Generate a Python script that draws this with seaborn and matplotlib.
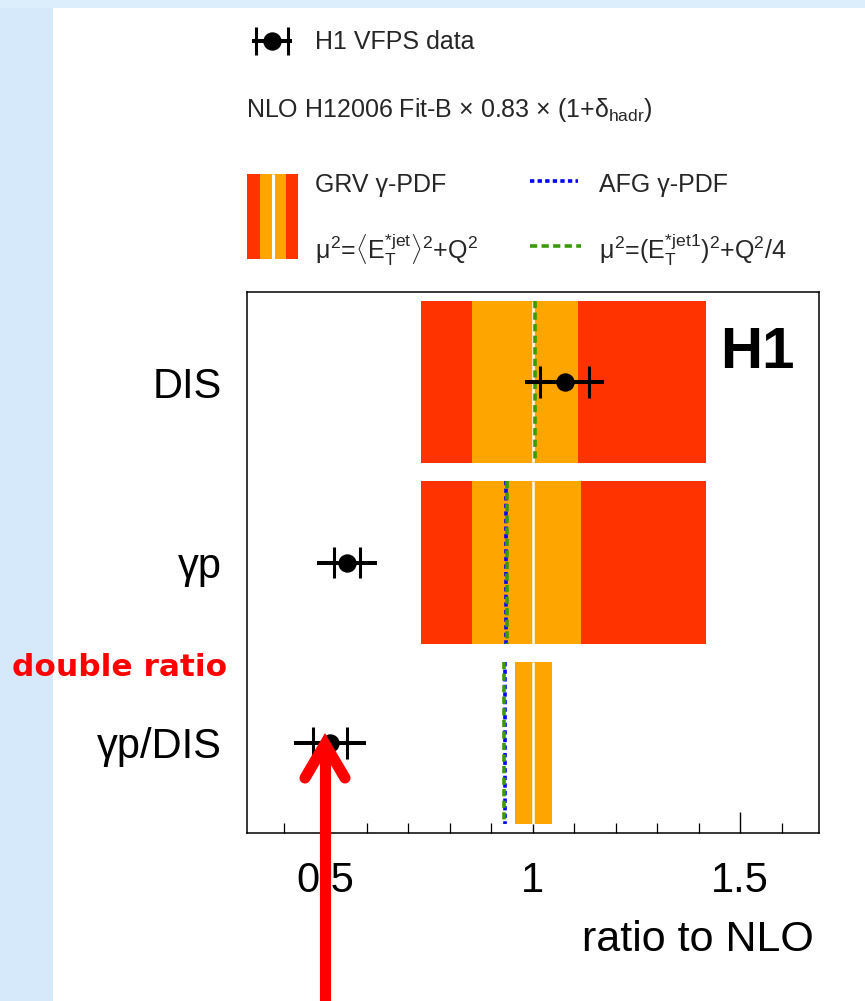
import numpy as np
import pandas as pd
import matplotlib
matplotlib.use("Agg")
import matplotlib.pyplot as plt
import seaborn as sns
from matplotlib.patches import Rectangle
from matplotlib.ticker import MultipleLocator

# ---------------- data ----------------
categories = ["DIS", "γp", "γp/DIS"]
data_ratio = [1.077, 0.553, 0.512]
data_stat = [0.058, 0.031, 0.041]
data_total = [0.095, 0.072, 0.086]
grv_central = [1.0, 1.0, 1.0]
scale_lo = [0.731, 0.731, 0.957]
scale_hi = [1.418, 1.418, 1.046]
pdf_lo = [0.855, 0.855, 0.957]
pdf_hi = [1.110, 1.117, 1.046]
afg_central = [np.nan, 0.935, 0.933]
alt_scale_central = [1.005, 0.938, 0.932]
x_major = [0.5, 1.0, 1.5]
x_major_labels = ["0.5", "1", "1.5"]

# ---------------- style ----------------
sns.set_theme(style="white")
plt.rcParams['font.family'] = ['Liberation Sans', 'DejaVu Sans']
plt.rcParams['mathtext.fontset'] = 'custom'
plt.rcParams['mathtext.rm'] = 'Liberation Sans'
plt.rcParams['mathtext.it'] = 'Liberation Sans'
plt.rcParams['mathtext.bf'] = 'Liberation Sans:bold'

RED = '#ff3300'
ORANGE = '#ffa500'
BLUE = '#0000ff'
GREEN = '#3a9a0a'

W, H = 865, 1001
fig = plt.figure(figsize=(W / 100, H / 100), dpi=100, facecolor='#d5e9fa')
fig.add_artist(Rectangle((0, 1 - 8 / H), 1, 8 / H, transform=fig.transFigure,
                         facecolor='#dcedfb', edgecolor='none', zorder=-2))
fig.add_artist(Rectangle((53 / W, 0), 1 - 53 / W, 1 - 8 / H, transform=fig.transFigure,
                         facecolor='white', edgecolor='none', zorder=-1))

ax = fig.add_axes([247 / W, 1 - 833 / H, (819 - 247) / W, (833 - 292) / H])
ax.set_facecolor('white')

ypos = np.arange(len(categories))
h = 0.9

ax.barh(ypos, np.subtract(scale_hi, scale_lo), left=scale_lo, height=h,
        color=RED, linewidth=0, zorder=1)
ax.barh(ypos, np.subtract(pdf_hi, pdf_lo), left=pdf_lo, height=h,
        color=ORANGE, linewidth=0, zorder=2)
ax.vlines(grv_central, ypos - h / 2, ypos + h / 2, color='white', lw=1.8, zorder=3)

afg = np.array(afg_central)
ok = ~np.isnan(afg)
ax.vlines(afg[ok], ypos[ok] - h / 2, ypos[ok] + h / 2, color=BLUE, lw=2.6,
          linestyles=[(0, (1.2, 0.9))], zorder=4)
ax.vlines(alt_scale_central, ypos - h / 2, ypos + h / 2, color=GREEN, lw=2.6,
          linestyles=[(0, (2.0, 1.2))], zorder=4)

r = np.array(data_ratio)
st = np.array(data_stat)
tot = np.array(data_total)
ax.hlines(ypos, r - tot, r + tot, color='black', lw=2.9, zorder=6)
ax.vlines(np.concatenate([r - st, r + st]), np.concatenate([ypos, ypos]) - 0.088,
          np.concatenate([ypos, ypos]) + 0.088, color='black', lw=2.2, zorder=6)
df = pd.DataFrame({'ratio': data_ratio, 'pos': ypos})
sns.scatterplot(data=df, x='ratio', y='pos', s=175, color='black', linewidth=0,
                zorder=7, ax=ax, legend=False)

ax.set_xlim(0.312, 1.690)
ax.set_ylim(2.5, -0.5)
ax.set_xticks(x_major)
ax.set_xticklabels(x_major_labels)
ax.xaxis.set_minor_locator(MultipleLocator(0.1))
ax.tick_params(axis='x', which='both', bottom=True, top=False, direction='in', colors='black')
ax.tick_params(axis='x', which='major', length=15, width=1.0, labelsize=30, pad=20)
ax.tick_params(axis='x', which='minor', length=7.5, width=0.9)
ax.set_yticks(ypos)
ax.set_yticklabels(categories)
ax.tick_params(axis='y', length=0, labelsize=30, pad=18, labelcolor='black')
ax.set_xlabel('')
ax.set_ylabel('')
for s in ax.spines.values():
    s.set_visible(True)
    s.set_color('black')
    s.set_linewidth(1.1)

fig.text(814 / W, 1 - 940 / H, 'ratio to NLO', ha='right', va='center', fontsize=31, color='black')
fig.text(757 / W, 1 - 353 / H, 'H1', ha='center', va='center', fontsize=42,
         fontweight='bold', color='black')
fig.text(12 / W, 1 - 668 / H, 'double ratio', ha='left', va='center', fontsize=22.5,
         fontweight='bold', color='red', family=['DejaVu Sans'])

# ---------------- legend & annotation overlay ----------------
ov = fig.add_axes([0, 0, 1, 1], zorder=10)
ov.set_xlim(0, W)
ov.set_ylim(H, 0)
ov.axis('off')

ov.hlines(41, 252, 292, color='black', lw=2.9)
ov.vlines([256, 288], 27, 55, color='black', lw=2.2)
ov.scatter([272], [41], s=175, color='black', linewidths=0)
ov.text(315, 42, 'H1 VFPS data', fontsize=18, va='center', ha='left')

ov.text(246, 110, r'NLO H12006 Fit-B $\times$ 0.83 $\times$ (1+$\delta_{\rm hadr}$)',
        fontsize=18, va='center', ha='left')

ov.add_patch(Rectangle((247, 174), 50.5, 85, facecolor=RED, edgecolor='none'))
ov.add_patch(Rectangle((259.5, 174), 26.5, 85, facecolor=ORANGE, edgecolor='none'))
ov.vlines([272.5], 174, 259, color='white', lw=2.2)

ov.text(315, 185, 'GRV γ-PDF', fontsize=18, va='center', ha='left')
ov.text(315, 250, r'$\mu^{2}$=$\langle$E$_{T}^{*jet}\rangle^{2}$+Q$^{2}$',
        fontsize=18, va='center', ha='left')
ov.plot([530, 578], [181, 181], color=BLUE, lw=2.6, dashes=(1.2, 0.9))
ov.text(599, 185, 'AFG γ-PDF', fontsize=18, va='center', ha='left')
ov.plot([530, 581], [246, 246], color=GREEN, lw=2.6, dashes=(2.0, 1.2))
ov.text(599, 250, r'$\mu^{2}$=(E$_{T}^{*jet1}$)$^{2}$+Q$^{2}$/4',
        fontsize=18, va='center', ha='left')

# red arrow
ov.plot([325, 325], [1010, 745], color='red', lw=8.0, solid_capstyle='butt')
ov.plot([305, 325, 345], [778, 744, 778], color='red', lw=8.0,
        solid_capstyle='round', solid_joinstyle='miter')

fig.savefig('out.png', dpi=100, facecolor=fig.get_facecolor())
